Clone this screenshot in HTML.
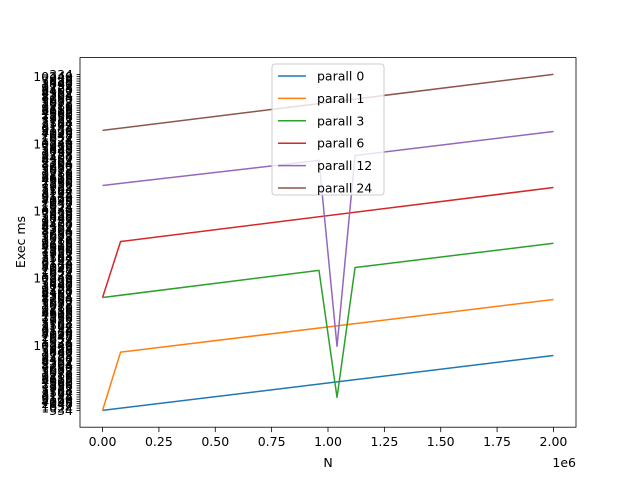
<!DOCTYPE html>
<html><head><meta charset="utf-8"><style>
html,body{margin:0;padding:0;background:#fff;}
svg text{font-family:"DejaVu Sans","Liberation Sans",sans-serif;}
</style></head><body>
<svg id="chart" width="640" height="480" viewBox="0 0 640 480" xmlns="http://www.w3.org/2000/svg">
<rect width="640" height="480" fill="#fff"/>
<g id="plot"></g>
</svg>
<script>
// Data: x in units of N, y as rank in the categorical Exec ms axis
const seriesNames = ["parall 0","parall 1","parall 3","parall 6","parall 12","parall 24"];
const colors = ["#1f77b4","#ff7f0e","#2ca02c","#d62728","#9467bd","#8c564b"];
const xs0 = [0, 2000000];               const ys0 = [0, 24.5];
const xs1 = [0, 80000, 2000000];        const ys1 = [0, 26, 49.5];
const xs3 = [0, 960000, 1040000, 1120000, 2000000]; const ys3 = [50.4, 62.5, 5.8, 63.8, 74.6];
const xs6 = [0, 80000, 2000000];        const ys6 = [50.4, 75.4, 99.5];
const xs12 = [0, 960000, 1040000, 1120000, 2000000]; const ys12 = [100.4, 111.6, 28.6, 113.8, 124.5];
const xs24 = [0, 2000000];              const ys24 = [125, 150];
const xTicks = [0, 250000, 500000, 750000, 1000000, 1250000, 1500000, 1750000, 2000000];
const xTickLabels = ["0.00","0.25","0.50","0.75","1.00","1.25","1.50","1.75","2.00"];
const yCatCount = 151;
const yTickLabels = ("334 1024 1632 2048 4096 5120 6144 8192 3584 7168 952 1536 2560 4608 6656 "+
 "9216 1280 3072 5632 7680 8704 2304 4352 6400 9728 1792 3840 5888 7936 10240 ").trim().split(" ");

const L=80,R=576,T=57.6,B=427.2;
const xMin=-100000,xMax=2100000;
const x=v=>L+(v-xMin)/(xMax-xMin)*(R-L);
const yMin=-0.05*(yCatCount-1), yMax=(yCatCount-1)*1.05;
const y=v=>B-(v-yMin)/(yMax-yMin)*(B-T);
const NS="http://www.w3.org/2000/svg";
const g=document.getElementById('plot');
function mk(tag,attrs,parent){const e=document.createElementNS(NS,tag);for(const k in attrs)e.setAttribute(k,attrs[k]);(parent||g).appendChild(e);return e;}

// series
const allX=[xs0,xs1,xs3,xs6,xs12,xs24], allY=[ys0,ys1,ys3,ys6,ys12,ys24];
allX.forEach((xs,i)=>{
  const pts=xs.map((v,j)=>x(v).toFixed(2)+","+y(allY[i][j]).toFixed(2)).join(" ");
  const p=mk('polyline',{points:pts,fill:"none",stroke:colors[i],"stroke-width":1.5,"stroke-linejoin":"round"});
  
  
});

// y ticks
for(let i=0;i<yCatCount;i++){
  const yy=y(i);
  const t=mk('line',{x1:L-3.5,x2:L,y1:yy,y2:yy,stroke:"#000","stroke-width":0.8});
  
  
  const lb=mk('text',{x:L-7,y:yy+4.5,"font-size":12.5,"text-anchor":"end",fill:"#000"});
  lb.textContent=yTickLabels[i%yTickLabels.length];
  
  
}
// x ticks
xTicks.forEach((v,i)=>{
  const xx=x(v);
  const t=mk('line',{x1:xx,x2:xx,y1:B,y2:B+4.9,stroke:"#000","stroke-width":0.8});
  
  
  const lb=mk('text',{x:xx,y:B+19,"font-size":13.9*0.9,"text-anchor":"middle",fill:"#000"});
  lb.textContent=xTickLabels[i];
  
  
});
// frame
const fr=mk('rect',{x:L,y:T,width:R-L,height:B-T,fill:"none",stroke:"#000","stroke-width":0.8});


// labels
let t=mk('text',{x:328,y:467,"font-size":12.5,"text-anchor":"middle"});t.textContent="N";


t=mk('text',{x:576,y:467,"font-size":12.5,"text-anchor":"end"});t.textContent="1e6";


t=mk('text',{x:0,y:0,"font-size":12.5,"text-anchor":"middle",transform:"translate(25,242) rotate(-90)"});t.textContent="Exec ms";


// legend
const lg=mk('g',{});


mk('rect',{x:272,y:64,width:112,height:131,rx:3,fill:"#fff","fill-opacity":0.8,stroke:"#ccc","stroke-width":1},lg);
seriesNames.forEach((n,i)=>{
  const yy=76+i*22.4;
  const e=mk('g',{},lg);
  
  
  mk('line',{x1:278,x2:306,y1:yy,y2:yy,stroke:colors[i],"stroke-width":1.5},e);
  const tx=mk('text',{x:317,y:yy+4.5,"font-size":12.5},e);tx.textContent=n;
});
</script>
</body></html>
